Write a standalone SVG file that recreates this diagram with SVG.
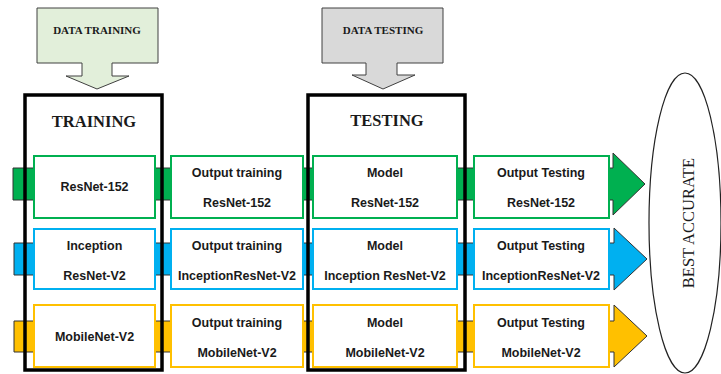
<svg xmlns="http://www.w3.org/2000/svg" width="721" height="374" viewBox="0 0 721 374">
<style>
.band{stroke:#333;stroke-width:1}
.box{fill:#fff;stroke-width:2}
.g{stroke:#00B050}
.b{stroke:#00B0F0}
.y{stroke:#FFC000}
.t{font-family:"Liberation Sans",Arial,sans-serif;font-weight:bold;font-size:12.5px;fill:#1a1a1a;text-anchor:middle}
.big{fill:none;stroke:#000;stroke-width:3.5}
.h{font-family:"Liberation Serif","Times New Roman",serif;font-weight:bold;fill:#1a1a1a;text-anchor:middle}
.da{stroke:#404040;stroke-width:1}
</style>
<rect width="721" height="374" fill="#fff"/>
<g id="connectors">
<path class="band" fill="#00B050" d="M13,168 H613 V153 L645,184 L613,215 V200 H13 Z"/>
<path class="band" fill="#00B0F0" d="M14,243 H614 V228 L647,259 L614,290 V275 H14 Z"/>
<path class="band" fill="#FFC000" d="M14,321 H614 V305 L647,336 L614,367 V352 H14 Z"/>
</g>
<g id="data-training">
<path class="da" fill="#E2EFDA" d="M37,8 H158 V63 H112 V76 H129 L97,89 L66,76 H82 V63 H37 Z"/>
<text class="h" x="97" y="34" font-size="11">DATA TRAINING</text>
</g>
<g id="data-testing">
<path class="da" fill="#D9D9D9" d="M322,8 H443 V63 H397 V75 H415 L383,89 L352,75 H366 V63 H322 Z"/>
<text class="h" x="383" y="34" font-size="11">DATA TESTING</text>
</g>
<g id="training">
<rect class="big" x="25" y="95" width="137" height="275"/>
<text class="h" x="94" y="127" font-size="16.5">TRAINING</text>
</g>
<g id="testing">
<rect class="big" x="308" y="95" width="157" height="275"/>
<text class="h" x="387" y="126" font-size="16.5">TESTING</text>
</g>
<g id="resnet152">
<rect class="box g" x="34" y="156" width="121" height="62"/>
<text class="t" x="94.5" y="191">ResNet-152</text>
</g>
<g id="out-train-resnet">
<rect class="box g" x="171" y="156" width="132" height="62"/>
<text class="t" x="237" y="177">Output training</text>
<text class="t" x="237" y="207">ResNet-152</text>
</g>
<g id="model-resnet">
<rect class="box g" x="313" y="156" width="144" height="62"/>
<text class="t" x="385" y="177">Model</text>
<text class="t" x="385" y="207">ResNet-152</text>
</g>
<g id="out-test-resnet">
<rect class="box g" x="474" y="156" width="135" height="62"/>
<text class="t" x="541" y="177">Output Testing</text>
<text class="t" x="541" y="207">ResNet-152</text>
</g>
<g id="inception">
<rect class="box b" x="34" y="229" width="121" height="60"/>
<text class="t" x="94.5" y="250">Inception</text>
<text class="t" x="94.5" y="280">ResNet-V2</text>
</g>
<g id="out-train-inception">
<rect class="box b" x="171" y="229" width="132" height="60"/>
<text class="t" x="237" y="250">Output training</text>
<text class="t" x="237" y="280">InceptionResNet-V2</text>
</g>
<g id="model-inception">
<rect class="box b" x="313" y="229" width="144" height="60"/>
<text class="t" x="385" y="250">Model</text>
<text class="t" x="385" y="280">Inception ResNet-V2</text>
</g>
<g id="out-test-inception">
<rect class="box b" x="474" y="229" width="135" height="60"/>
<text class="t" x="541" y="250">Output Testing</text>
<text class="t" x="541" y="280">InceptionResNet-V2</text>
</g>
<g id="mobilenet">
<rect class="box y" x="34" y="305" width="121" height="62"/>
<text class="t" x="94.5" y="341">MobileNet-V2</text>
</g>
<g id="out-train-mobilenet">
<rect class="box y" x="171" y="305" width="132" height="62"/>
<text class="t" x="237" y="327">Output training</text>
<text class="t" x="237" y="357">MobileNet-V2</text>
</g>
<g id="model-mobilenet">
<rect class="box y" x="313" y="305" width="144" height="62"/>
<text class="t" x="385" y="327">Model</text>
<text class="t" x="385" y="357">MobileNet-V2</text>
</g>
<g id="out-test-mobilenet">
<rect class="box y" x="474" y="305" width="135" height="62"/>
<text class="t" x="541" y="327">Output Testing</text>
<text class="t" x="541" y="357">MobileNet-V2</text>
</g>
<g id="best-accurate">
<ellipse cx="685" cy="223" rx="36" ry="150" fill="#fff" stroke="#222" stroke-width="1.2"/>
<text x="0" y="0" transform="translate(694,223) rotate(-90)" font-family="'Liberation Serif','Times New Roman',serif" font-size="16.5" fill="#1a1a1a" text-anchor="middle">BEST ACCURATE</text>
</g>
</svg>
